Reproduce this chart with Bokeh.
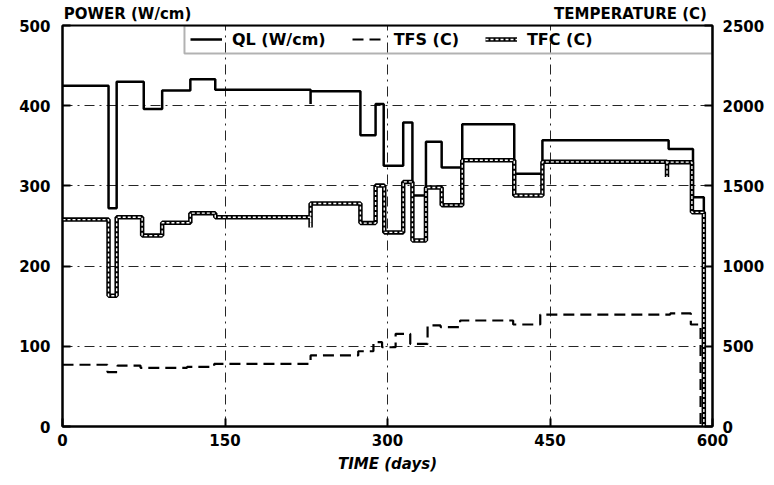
from bokeh.plotting import figure
from bokeh.models import (Range1d, LinearAxis, Legend, LegendItem,
                          BoxAnnotation, FixedTicker)
from bokeh.embed import file_html
from bokeh.resources import INLINE

# ---- data ----
# QL: linear power (W/cm), step history (day where each level starts)
ql_day = [0, 42.5, 50, 75, 92, 118, 141, 229, 229, 275, 289, 296.5, 314.5, 323,
          335.5, 350, 369, 417, 443, 559.5, 582, 592]
ql_val = [425, 272, 430, 396, 419, 433, 420, 402, 418, 363, 402, 325, 379, 288,
          355, 323, 377, 315, 357, 346, 286, 0]

# TFS: fuel surface temperature (C)
tfs_day = [0, 41.5, 50.8, 72, 115, 140, 229, 273, 287, 295, 307.5, 321, 337,
           349, 367, 416, 441, 561, 580, 589]
tfs_val = [385, 339, 380, 366, 372, 390, 443, 469, 526, 494, 578, 515, 630,
           620, 661, 636, 698, 705, 636, 0]

# TFC: fuel centre temperature (C)
tfc_day = [0, 42.5, 50, 73.5, 92, 118, 141, 229, 229, 275, 289, 297, 314.5, 323,
           335.5, 350, 369, 417, 443, 558, 558, 581, 592]
tfc_val = [1290, 815, 1305, 1190, 1270, 1330, 1305, 1240, 1390, 1268, 1502, 1210,
           1525, 1160, 1490, 1380, 1660, 1440, 1650, 1555, 1648, 1335, 0]

x_ticks = [0, 150, 300, 450, 600]
power_ticks = [0, 100, 200, 300, 400, 500]
temp_ticks = [0, 500, 1000, 1500, 2000, 2500]
left_title = "POWER (W/cm)"
right_title = "TEMPERATURE (C)"

FONT = "DejaVu Sans"

p = figure(width=774, height=485, output_backend="svg", toolbar_location=None,
           x_range=Range1d(0, 600), y_range=Range1d(0, 500), title=None,
           min_border_left=62, min_border_right=62, min_border_top=25,
           min_border_bottom=59)
p.extra_y_ranges = {"temp": Range1d(0, 2500)}
# pixel-like range across the frame, only used to place the two axis titles on top
p.extra_x_ranges = {"titles": Range1d(62, 712)}
p.background_fill_color = "white"
p.border_fill_color = "white"
p.outline_line_color = "black"
p.outline_line_width = 2


def style_axis(ax, size="15px"):
    ax.axis_line_width = 2
    ax.major_tick_in = 8
    ax.major_tick_out = 0
    ax.minor_tick_line_color = None
    ax.major_tick_line_width = 2
    ax.major_label_text_font = FONT
    ax.major_label_text_font_size = size
    ax.major_label_text_font_style = "bold"
    ax.major_label_text_color = "black"


style_axis(p.xaxis[0])
style_axis(p.yaxis[0])
p.xaxis[0].ticker = FixedTicker(ticks=x_ticks)
p.yaxis[0].ticker = FixedTicker(ticks=power_ticks)
p.xaxis[0].axis_label = "TIME (days)"
p.xaxis[0].axis_label_text_font = FONT
p.xaxis[0].axis_label_text_font_size = "15px"
p.xaxis[0].axis_label_text_font_style = "bold italic"
p.xaxis[0].axis_label_text_color = "black"
p.xaxis[0].axis_label_standoff = 6
p.xaxis[0].major_label_standoff = 7
p.yaxis[0].major_label_standoff = 12

rax = LinearAxis(y_range_name="temp", ticker=FixedTicker(ticks=temp_ticks))
style_axis(rax)
rax.major_label_standoff = 10
p.add_layout(rax, "right")

# axis titles written above the frame, one at each end
tax = LinearAxis(x_range_name="titles", ticker=FixedTicker(ticks=[127, 630]),
                 major_label_overrides={127: left_title, 630: right_title})
tax.axis_line_color = None
tax.major_tick_line_color = None
tax.minor_tick_line_color = None
tax.major_tick_in = 0
tax.major_tick_out = 0
tax.major_label_standoff = 3
tax.major_label_text_font = FONT
tax.major_label_text_font_size = "15px"
tax.major_label_text_font_style = "bold"
tax.major_label_text_color = "black"
p.add_layout(tax, "above")

# grid
for g in (p.xgrid[0], p.ygrid[0]):
    g.grid_line_color = "black"
    g.grid_line_width = 1
    g.grid_line_dash = "10 5 2 5"
    g.grid_line_alpha = 0.85
p.xgrid[0].ticker = FixedTicker(ticks=[150, 300, 450])
p.ygrid[0].ticker = FixedTicker(ticks=[100, 200, 300, 400])

# series
r_ql = p.step(ql_day, ql_val, mode="after", line_color="black", line_width=2.5)
r_tfs = p.step(tfs_day, tfs_val, mode="after", line_color="black", line_width=2.2,
               line_dash="11 6", y_range_name="temp")
r_tfc_o = p.step(tfc_day, tfc_val, mode="after", line_color="black", line_width=4.5,
                 y_range_name="temp")
r_tfc_i = p.step(tfc_day, tfc_val, mode="after", line_color="white", line_width=1.4,
                 line_dash="3 2", y_range_name="temp")

# legend box and legend
p.add_layout(BoxAnnotation(left=112.6, right=600, top=500, bottom=465,
                           fill_alpha=0, line_color="black", line_width=2))
leg = Legend(items=[LegendItem(label="QL (W/cm)", renderers=[r_ql]),
                    LegendItem(label="TFS (C)", renderers=[r_tfs]),
                    LegendItem(label="TFC (C)", renderers=[r_tfc_o, r_tfc_i])],
             orientation="horizontal", location=(124, 373),
             glyph_width=32, glyph_height=20, label_standoff=10, spacing=26,
             padding=4, margin=0, border_line_alpha=0, background_fill_alpha=0,
             label_text_font=FONT, label_text_font_size="16px",
             label_text_font_style="bold", label_text_color="black")
p.add_layout(leg)

open("out.html", "w").write(file_html(p, INLINE))
